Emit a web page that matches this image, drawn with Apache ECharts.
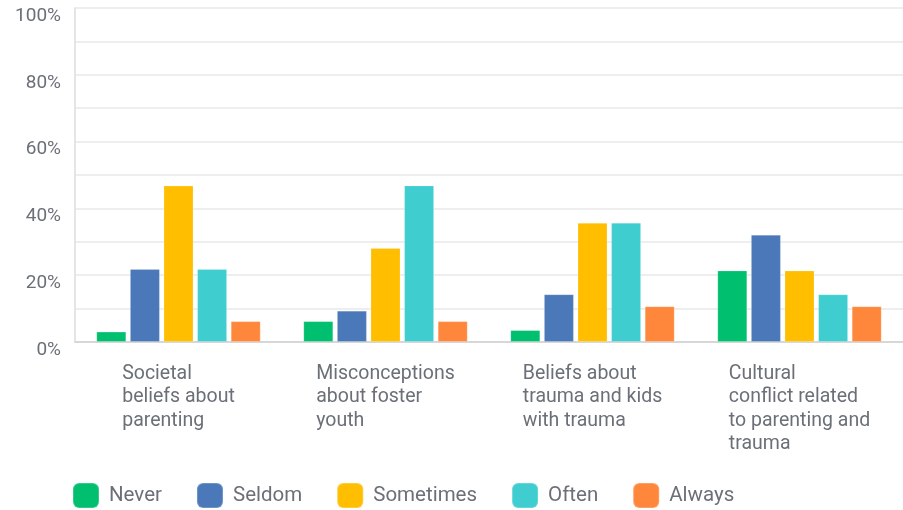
<!DOCTYPE html>
<html>
<head>
<meta charset="utf-8">
<script src="https://cdn.jsdelivr.net/npm/echarts@6/dist/echarts.min.js"></script>
<style>
  html, body { margin: 0; padding: 0; background: #fff; }
  #chart { width: 903px; height: 510px; }
</style>
</head>
<body>
<div id="chart"></div>
<script>
// Survey topics (line breaks as they wrap under the axis)
const categories = [
  'Societal\nbeliefs about\nparenting',
  'Misconceptions\nabout foster\nyouth',
  'Beliefs about\ntrauma and kids\nwith trauma',
  'Cultural\nconflict related\nto parenting and\ntrauma'
];

// Response shares in percent, one array per answer
const seriesNames = ['Never', 'Seldom', 'Sometimes', 'Often', 'Always'];
const never     = [3.13, 6.25, 3.57, 21.43];
const seldom    = [21.88, 9.38, 14.29, 32.14];
const sometimes = [46.88, 28.13, 35.71, 21.43];
const often     = [21.88, 46.88, 35.71, 14.29];
const always    = [6.25, 6.25, 10.71, 10.71];

const colors = ['#00bf6f', '#4b78b8', '#ffbe00', '#40cdd0', '#ff873c'];
const textColor = '#6b7078';
const fontFamily = 'Roboto, "Noto Sans", sans-serif';

const values = [never, seldom, sometimes, often, always];

const chart = echarts.init(document.getElementById('chart'), null, { renderer: 'canvas' });

chart.setOption({
  animation: false,
  color: colors,
  grid: { left: 75, right: 0, top: 8, bottom: 168, containLabel: false },
  legend: {
    data: seriesNames,
    left: 72,
    top: 482,
    padding: 0,
    itemWidth: 26,
    itemHeight: 25,
    itemGap: 34,
    icon: 'roundRect',
    textStyle: { color: textColor, fontSize: 20.5, fontFamily: fontFamily, padding: [0, 0, 0, 5] }
  },
  xAxis: {
    type: 'category',
    data: categories,
    axisLine: { show: true, lineStyle: { color: '#cfcfcf', width: 1.5 } },
    axisTick: { show: false },
    axisLabel: {
      interval: 0,
      align: 'center',
      margin: 20,
      color: textColor,
      fontSize: 19.5,
      lineHeight: 23.5,
      fontFamily: fontFamily,
      // block centred under the group, lines flush left inside it
      formatter: v => v.split('\n').map(s => '{l|' + s + '}').join('\n'),
      rich: {
        l: { align: 'left', color: textColor, fontSize: 19.5, lineHeight: 23.5, fontFamily: fontFamily }
      }
    }
  },
  yAxis: {
    type: 'value',
    min: 0,
    max: 100,
    interval: 10,
    axisLine: { show: true, lineStyle: { color: '#dcdcdc', width: 1.5 } },
    axisTick: { show: false },
    splitLine: { show: true, lineStyle: { color: '#e8e8e8', width: 1.5 } },
    axisLabel: {
      margin: 14,
      verticalAlign: 'top',
      lineHeight: 16,
      color: textColor,
      fontSize: 19,
      fontFamily: fontFamily,
      formatter: v => (v % 20 === 0 ? v + '%' : '')
    }
  },
  series: seriesNames.map((name, i) => ({
    name: name,
    type: 'bar',
    data: values[i],
    barWidth: 30,
    barGap: '12%',
    itemStyle: { borderColor: 'rgba(255,255,255,0.2)', borderWidth: 1 }
  }))
});
</script>
</body>
</html>
